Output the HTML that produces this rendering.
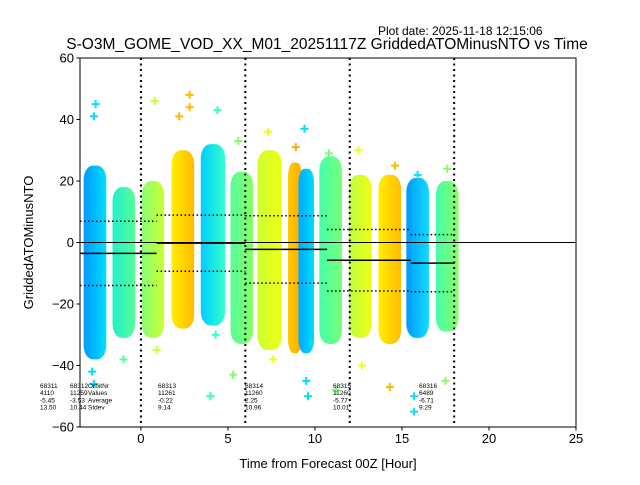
<!DOCTYPE html>
<html><head><meta charset="utf-8"><style>
body{margin:0;background:#fff}
svg{font-family:"Liberation Sans","DejaVu Sans",sans-serif}
</style></head><body>
<svg id="chart" width="640" height="480" xmlns="http://www.w3.org/2000/svg">
<rect width="640" height="480" fill="#fff"/>
<text x="378" y="35" font-size="12">Plot date: 2025-11-18 12:15:06</text>
<text x="327" y="49" font-size="15.5" text-anchor="middle">S-O3M_GOME_VOD_XX_M01_20251117Z GriddedATOMinusNTO vs Time</text>
<defs id="defs"></defs>
<g id="plot"></g>
</svg>
<script>
const stripCenters=[-2.64,-0.98,0.69,2.41,4.14,5.8,7.4,8.85,9.5,10.9,12.6,14.3,15.9,17.6];
const stripWidths=[1.3,1.3,1.3,1.3,1.4,1.3,1.4,0.8,0.9,1.3,1.3,1.3,1.3,1.3];
const stripLows=[-38,-31,-31,-28,-27,-33,-35,-36,-36,-33,-31,-33,-31,-29];
const stripHighs=[25,18,20,30,32,23,30,26,24,28,22,22,21,20];
const stripColorsA=['#0099ff','#22eecc','#88ff77','#ffee00','#00ccff','#55ff99','#ccff33','#ffcc00','#00aaff','#44ffaa','#bbff44','#ffee00','#0099ff','#44ffaa'];
const stripColorsB=['#00ddff','#55ff99','#ccff33','#ffbb00','#33ffcc','#88ff66','#eeff11','#ffaa00','#00ddff','#77ff77','#eeff11','#ffbb00','#11ddff','#88ff66'];
const outX=[-2.6,-2.7,-2.8,-1.0,0.8,0.9,2.8,2.8,2.2,4.4,4.3,4.0,5.6,5.3,7.3,7.6,8.9,9.4,9.6,10.8,11.2,12.5,12.7,14.3,14.6,15.9,15.7,17.6,17.5,-2.7,4.0,9.5,15.7];
const outY=[45,41,-42,-38,46,-35,48,44,41,43,-30,-50,33,-43,36,-38,31,37,-50,29,-48,30,-40,-47,25,22,-55,24,-45,-46,-50,-45,-50];
const segStart=[-3.5,0.9,6,10.7,15.5];
const segEnd=[0.9,6,10.7,15.5,18];
const segMean=[-3.53,-0.22,-2.25,-5.77,-6.71];
const segStd=[10.44,9.14,10.96,10.01,9.29];
const orbitVlines=[0,6,12,18];
const xTicks=[0,5,10,15,20,25];
const yTicks=[60,40,20,0,-20,-40,-60];
const orbitNr=['68311','68312','68313','68314','68315','68316'];
const orbitN=['4110','11259','11261','11260','11260','6489'];
const orbitAvg=['-5.45','-3.53','-0.22','2.25','-5.77','-6.71'];
const orbitStd=['13.50','10.44','9.14','10.96','10.01','9.29'];
const orbitTextX=[40,70,158,245,333,419];

const L=80,R=576,T=58,B=427,X0=-3.5,X1=25,Y0=-60,Y1=60;
const sx=v=>L+(v-X0)/(X1-X0)*(R-L);
const sy=v=>B-(v-Y0)/(Y1-Y0)*(B-T);
const NS='http://www.w3.org/2000/svg';
const g=document.getElementById('plot');
const defs=document.getElementById('defs');
function mk(tag,at,parent){const e=document.createElementNS(NS,tag);for(const k in at)e.setAttribute(k,at[k]);(parent||g).appendChild(e);return e;}
const clip=mk('clipPath',{id:'pc'},defs);mk('rect',{x:L,y:T,width:R-L,height:B-T},clip);
const data=mk('g',{'clip-path':'url(#pc)'});
stripCenters.forEach((c,i)=>{
 const gr=mk('linearGradient',{id:'sg'+i,x1:0,x2:1,y1:0,y2:0},defs);
 mk('stop',{offset:0,'stop-color':stripColorsA[i]},gr);
 mk('stop',{offset:1,'stop-color':stripColorsB[i]},gr);
 const w=sx(stripWidths[i])-sx(0);
 const r=mk('rect',{x:sx(c)-w/2,y:sy(stripHighs[i]),width:w,height:sy(stripLows[i])-sy(stripHighs[i]),rx:w/2.5,ry:14,fill:'url(#sg'+i+')'},data);
 
 
});
outX.forEach((x,i)=>{
 let best=0,bd=99;stripCenters.forEach((c,j)=>{if(Math.abs(c-x)<bd){bd=Math.abs(c-x);best=j;}});
 const px=sx(x),py=sy(outY[i]);
 const p=mk('path',{d:`M${px-4} ${py}H${px+4}M${px} ${py-4}V${py+4}`,stroke:stripColorsB[best],'stroke-width':2},data);
 
 
});
mk('line',{x1:L,x2:R,y1:sy(0),y2:sy(0),stroke:'#000','stroke-width':1},data);
segStart.forEach((s,i)=>{
 const m=mk('line',{x1:sx(s),x2:sx(segEnd[i]),y1:sy(segMean[i]),y2:sy(segMean[i]),stroke:'#000','stroke-width':1.5},data);
 
 
 [1,-1].forEach(k=>{
  const d=mk('line',{x1:sx(s),x2:sx(segEnd[i]),y1:sy(segMean[i]+k*segStd[i]),y2:sy(segMean[i]+k*segStd[i]),stroke:'#000','stroke-width':1.5,'stroke-dasharray':'1.5,2.5'},data);
  
  
 });
});
orbitVlines.forEach(v=>{
 const l=mk('line',{x1:sx(v),x2:sx(v),y1:T,y2:B,stroke:'#000','stroke-width':2,'stroke-dasharray':'2,3.5'},data);
 
 
});
const txt=mk('g',{'font-size':6.5,fill:'#000'});
orbitTextX.forEach((x,i)=>{
 [orbitNr[i],orbitN[i],orbitAvg[i],orbitStd[i]].forEach((s,k)=>{
  const t=mk('text',{x:x,y:388+k*7.2},txt);t.textContent=(k==1&&i==0?' ':'')+s;
  
  
 });
});
['OrbitNr','Values','Average','Stdev'].forEach((s,k)=>{
 const t=mk('text',{x:88,y:388+k*7.2},txt);t.textContent=s;
 
 
});
mk('rect',{x:L,y:T,width:R-L,height:B-T,fill:'none',stroke:'#000','stroke-width':1});
xTicks.forEach(v=>{
 mk('line',{x1:sx(v),x2:sx(v),y1:B,y2:B+3.5,stroke:'#000'});
 const t=mk('text',{x:sx(v),y:B+16,'font-size':13,'text-anchor':'middle'});t.textContent=v;
 
 
});
yTicks.forEach(v=>{
 mk('line',{x1:L-3.5,x2:L,y1:sy(v),y2:sy(v),stroke:'#000'});
 const t=mk('text',{x:L-6,y:sy(v)+4.5,'font-size':13,'text-anchor':'end'});t.textContent=(v<0?'\u2212'+(-v):v);
 
 
});
const xt=mk('text',{x:(L+R)/2,y:468,'font-size':13,'text-anchor':'middle'});xt.textContent='Time from Forecast 00Z [Hour]';


const yt=mk('text',{x:33,y:(T+B)/2,'font-size':13,'text-anchor':'middle',transform:`rotate(-90 33 ${(T+B)/2})`});yt.textContent='GriddedATOMinusNTO';


</script>
</body></html>
